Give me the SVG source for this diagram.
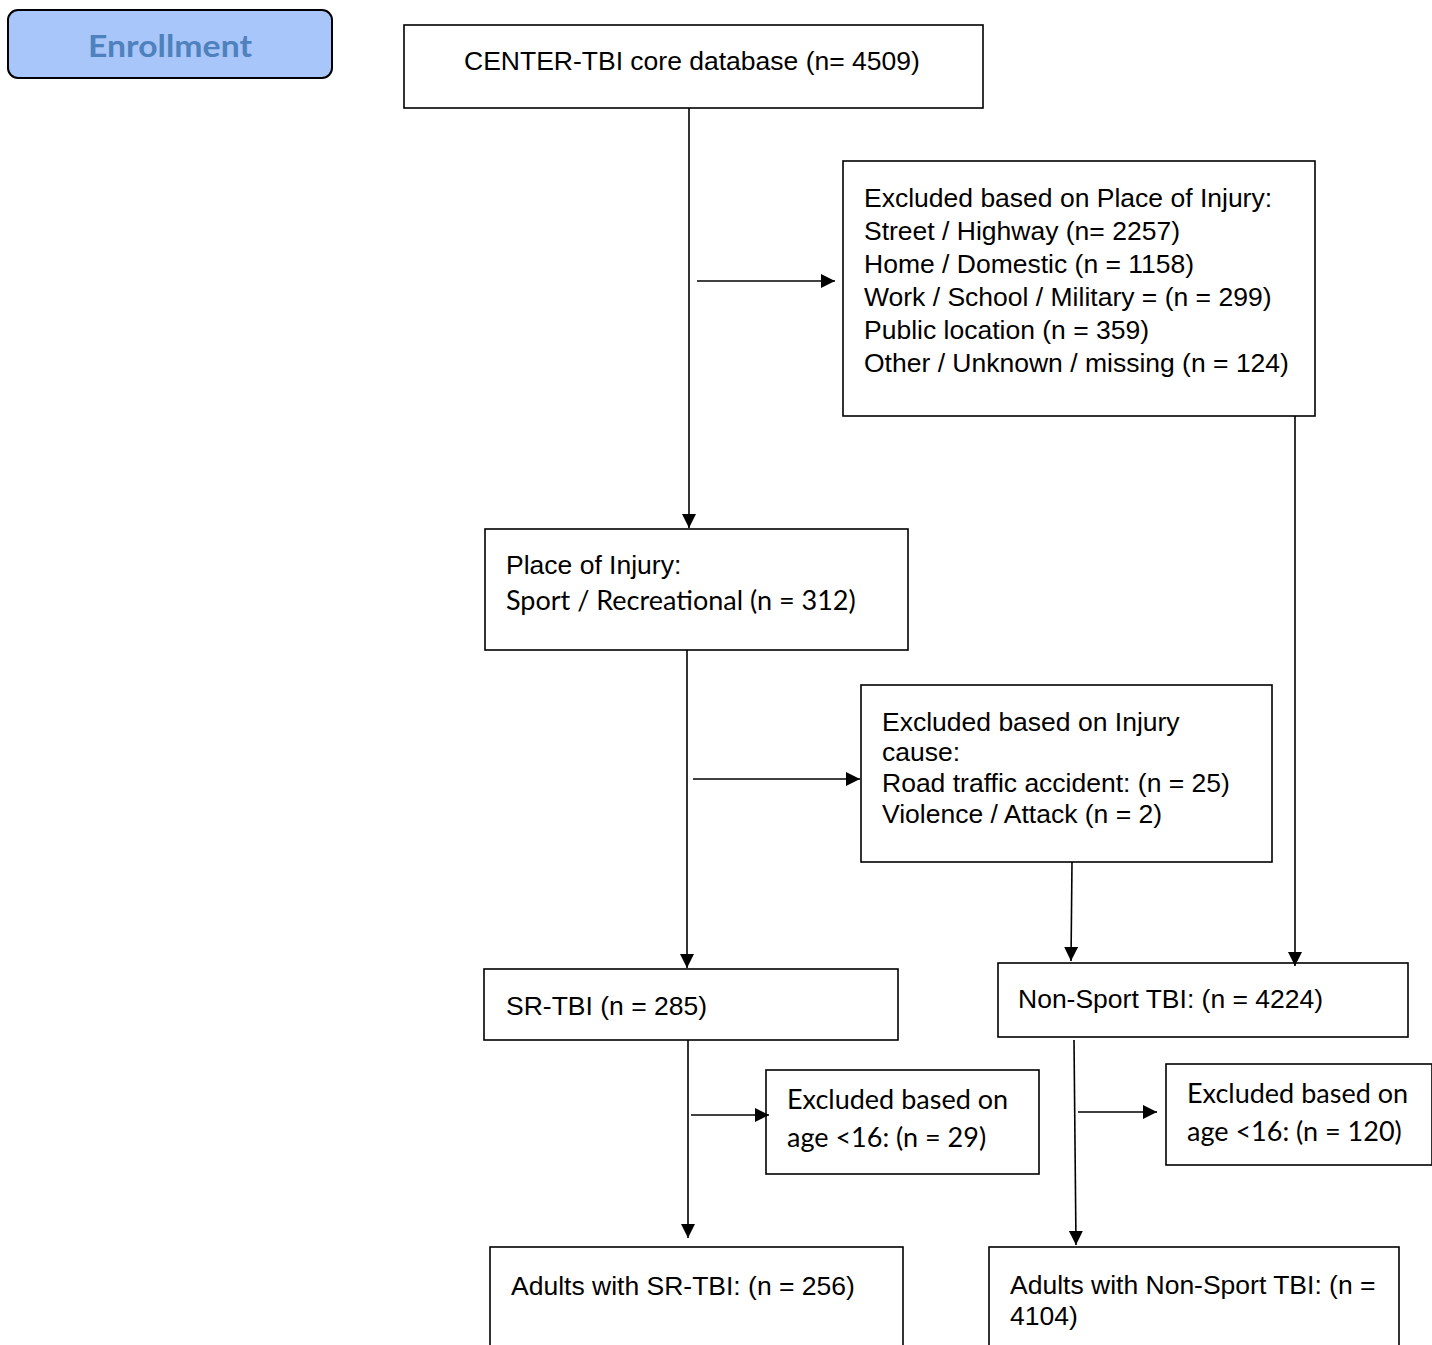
<svg xmlns="http://www.w3.org/2000/svg" width="1432" height="1345" viewBox="0 0 1432 1345">
<style>
.box{fill:#fff;stroke:#000;stroke-width:1.6}
.t{font-family:"Liberation Sans",Arial,sans-serif;font-size:26.5px;fill:#000}
.c{font-family:Lato,"Open Sans",sans-serif;font-size:27px;fill:#000}
.ln{stroke:#000;stroke-width:1.6;fill:none}
</style>
<defs>
<marker id="ah" markerUnits="userSpaceOnUse" markerWidth="16" markerHeight="16" refX="14" refY="7" orient="auto">
<path d="M0,0 L14,7 L0,14 Z" fill="#000"/>
</marker>
</defs>
<g id="enrollment">
<rect x="8" y="10" width="324" height="68" rx="10" fill="#a8c6fa" stroke="#000" stroke-width="2"/>
<text x="88" y="57" textLength="164" lengthAdjust="spacingAndGlyphs" font-family="Lato,'Open Sans',sans-serif" font-weight="bold" font-size="31" fill="#4f81bd">Enrollment</text>
</g>
<g id="core">
<rect class="box" x="404" y="25" width="579" height="83"/>
<text class="t" x="464" y="70">CENTER-TBI core database (n= 4509)</text>
</g>
<g id="excl-place">
<rect class="box" x="843" y="161" width="472" height="255"/>
<text class="t" x="864" y="207">Excluded based on Place of Injury:</text>
<text class="t" x="864" y="240">Street / Highway (n= 2257)</text>
<text class="t" x="864" y="273">Home / Domestic (n = 1158)</text>
<text class="t" x="864" y="306">Work / School / Military = (n = 299)</text>
<text class="t" x="864" y="339">Public location (n = 359)</text>
<text class="t" x="864" y="372">Other / Unknown / missing (n = 124)</text>
</g>
<g id="sport">
<rect class="box" x="485" y="529" width="423" height="121"/>
<text class="t" x="506" y="574">Place of Injury:</text>
<text class="c" x="506" y="610">Sport / Recreational (n = 312)</text>
</g>
<g id="excl-cause">
<rect class="box" x="861" y="685" width="411" height="177"/>
<text class="t" x="882" y="731">Excluded based on Injury</text>
<text class="t" x="882" y="761">cause:</text>
<text class="t" x="882" y="792">Road traffic accident: (n = 25)</text>
<text class="t" x="882" y="823">Violence / Attack (n = 2)</text>
</g>
<g id="srtbi">
<rect class="box" x="484" y="969" width="414" height="71"/>
<text class="t" x="506" y="1015">SR-TBI (n = 285)</text>
</g>
<g id="nonsport">
<rect class="box" x="998" y="963" width="410" height="74"/>
<text class="t" x="1018" y="1008">Non-Sport TBI: (n = 4224)</text>
</g>
<g id="excl-age-sr">
<rect class="box" x="766" y="1070" width="273" height="104"/>
<text class="c" x="787" y="1109">Excluded based on</text>
<text class="c" x="787" y="1147">age &lt;16: (n = 29)</text>
</g>
<g id="excl-age-ns">
<rect class="box" x="1166" y="1064" width="266" height="101"/>
<text class="c" x="1187" y="1103">Excluded based on</text>
<text class="c" x="1187" y="1141">age &lt;16: (n = 120)</text>
</g>
<g id="adults-sr">
<rect class="box" x="490" y="1247" width="413" height="110"/>
<text class="t" x="511" y="1295">Adults with SR-TBI: (n = 256)</text>
</g>
<g id="adults-ns">
<rect class="box" x="989" y="1247" width="410" height="110"/>
<text class="t" x="1010" y="1294">Adults with Non-Sport TBI: (n =</text>
<text class="t" x="1010" y="1325">4104)</text>
</g>
<g id="connectors">
<line class="ln" x1="689" y1="108" x2="689" y2="528" marker-end="url(#ah)"/>
<line class="ln" x1="697" y1="281" x2="835" y2="281" marker-end="url(#ah)"/>
<line class="ln" x1="1295" y1="416" x2="1295" y2="966" marker-end="url(#ah)"/>
<line class="ln" x1="687" y1="650" x2="687" y2="968" marker-end="url(#ah)"/>
<line class="ln" x1="693" y1="779" x2="860" y2="779" marker-end="url(#ah)"/>
<line class="ln" x1="1072" y1="862" x2="1071" y2="961" marker-end="url(#ah)"/>
<line class="ln" x1="688" y1="1040" x2="688" y2="1238" marker-end="url(#ah)"/>
<line class="ln" x1="691" y1="1115" x2="769" y2="1115" marker-end="url(#ah)"/>
<line class="ln" x1="1074" y1="1040" x2="1076" y2="1245" marker-end="url(#ah)"/>
<line class="ln" x1="1078" y1="1112" x2="1157" y2="1112" marker-end="url(#ah)"/>
</g>
</svg>
